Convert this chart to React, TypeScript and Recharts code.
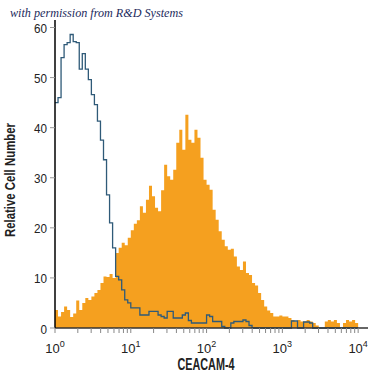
import React from "react";
import { ComposedChart, Area, Line, XAxis, YAxis } from "recharts";

// Histogram bins: 100 bins spanning 4 decades (log10 units), width 0.04 each
const BIN_WIDTH = 0.04;

// Stained (CEACAM-4) histogram, relative cell number per bin
const stainedCounts = [
  3.6, 2.3, 3.2, 4.3, 3.6, 2.2, 2.9, 5.5, 3.6, 5.0,
  6.0, 5.6, 6.3, 7.0, 7.6, 9.0, 10.3, 10.2, 10.8, 10.0,
  15.0, 16.0, 17.0, 16.5, 18.0, 19.5, 20.8, 21.5, 24.3, 23.0,
  25.6, 28.4, 26.3, 24.0, 23.3, 27.5, 32.6, 30.3, 29.6, 31.6,
  37.0, 39.6, 35.6, 42.6, 37.6, 37.0, 39.6, 38.0, 34.0, 29.6,
  28.6, 27.6, 23.6, 21.6, 19.3, 17.6, 16.3, 15.6, 15.8, 14.3,
  12.3, 11.6, 13.3, 11.0, 10.6, 9.0, 8.5, 7.0, 5.6, 4.3,
  3.5, 3.0, 2.3, 2.3, 2.5, 2.3, 2.3, 2.0, 1.6, 1.3,
  1.6, 1.3, 1.3, 1.6, 1.3, 1.0, 0.5, 0, 0, 1.3,
  1.6, 1.3, 1.6, 1.0, 0, 1.0, 1.6, 1.3, 1.6, 1.0,
];

// Isotype control histogram
const isotypeCounts = [
  45, 46, 54, 56.6, 57, 58.6, 57.2, 57, 51.7, 54.8,
  51.7, 49.6, 46.6, 44.6, 41.3, 37.5, 33.6, 26.6, 21, 16,
  10.3, 9.6, 7.6, 5.6, 5, 4, 4, 4, 2.6, 2.6,
  2.6, 3.3, 3.3, 3.3, 2.6, 2.3, 2, 3.3, 3.3, 2,
  2, 2, 2.6, 3.0, 1.5, 1, 1, 1, 1, 1,
  2.6, 2.3, 1.3, 1.3, 1.3, 0.3, 0, 0, 1.0, 1.3,
  1.3, 1.3, 1.6, 1.3, 0.5, 0, 0, 0, 0, 0,
  0, 0, 0, 0, 0, 0, 0, 0, 1.4, 1.4,
  0, 0, 1.2, 1.2, 1.0, 0, 0, 0, 0, 0,
  0, 0, 0, 0, 0, 0, 0, 0, 0, 0,
];

const majorDecades = [0, 1, 2, 3, 4];
const minorMultipliers = [2, 3, 4, 5, 6, 7, 8, 9];
const yTicks = [0, 10, 20, 30, 40, 50, 60];
const xAxisTitle = "CEACAM-4";
const yAxisTitle = "Relative Cell Number";
const creditText = "with permission from R&D Systems";

const data = stainedCounts.map((v, i) => ({
  x: i * BIN_WIDTH,
  stained: v,
  isotype: isotypeCounts[i],
}));
data.push({
  x: stainedCounts.length * BIN_WIDTH,
  stained: stainedCounts[stainedCounts.length - 1],
  isotype: isotypeCounts[isotypeCounts.length - 1],
});

const xTicks: number[] = [];
majorDecades.forEach((d) => {
  xTicks.push(d);
  if (d < 4) minorMultipliers.forEach((m) => xTicks.push(d + Math.log10(m)));
});

const FONT = "'Liberation Sans', Arial, sans-serif";

const XTick = (props: any) => {
  const { x, y, payload } = props;
  const v = payload.value;
  if (Math.abs(v - Math.round(v)) > 1e-6) return null;
  return (
    <text x={x} y={y + 18} textAnchor="middle" fontFamily={FONT} fontSize={13} fill="#222">
      <tspan>10</tspan>
      <tspan dy={-6} fontSize={9}>{Math.round(v)}</tspan>
    </text>
  );
};

const YTick = (props: any) => {
  const { x, y, payload } = props;
  const s = String(payload.value);
  return (
    <text x={x - 1} y={y + 5.5} textAnchor="end" fontFamily={FONT} fontSize={13.5} fill="#222" textLength={6.5 * s.length} lengthAdjust="spacingAndGlyphs">
      {s}
    </text>
  );
};

const YLabel = () => (
  <text
    x={15}
    y={180}
    transform="rotate(-90 15 180)"
    textAnchor="middle"
    fontFamily={FONT}
    fontWeight="bold"
    fontSize={15}
    fill="#222"
    textLength={114}
    lengthAdjust="spacingAndGlyphs"
  >
    {yAxisTitle}
  </text>
);

const XLabel = () => (
  <text
    x={206}
    y={370}
    textAnchor="middle"
    fontFamily={FONT}
    fontWeight="bold"
    fontSize={16}
    fill="#222"
    textLength={57}
    lengthAdjust="spacingAndGlyphs"
  >
    {xAxisTitle}
  </text>
);

export default function App() {
  return (
    <div style={{ position: "absolute", left: 0, top: 0, width: 375, height: 375, background: "#fff" }}>
      <ComposedChart
        width={375}
        height={375}
        data={data}
        margin={{ top: 20, right: 7, bottom: 0, left: 0 }}
      >
        <text
          x={10}
          y={16.5}
          fontFamily="'Liberation Serif', 'DejaVu Serif', serif"
          fontStyle="italic"
          fontSize={12.5}
          fill="#1c2a5c"
          textLength={173}
          lengthAdjust="spacingAndGlyphs"
        >
          {creditText}
        </text>
        <XAxis
          dataKey="x"
          type="number"
          domain={[0, 4.13]}
          ticks={xTicks}
          allowDataOverflow
          height={47}
          tickSize={5}
          tick={<XTick />}
          axisLine={{ stroke: "#333", strokeWidth: 1.5 }}
          tickLine={{ stroke: "#888" }}
          interval={0}
          label={<XLabel />}
        />
        <YAxis
          type="number"
          domain={[0, 61.5]}
          ticks={yTicks}
          width={55}
          tickSize={5}
          interval={0}
          axisLine={{ stroke: "#000", strokeWidth: 1.5 }}
          tickLine={{ stroke: "#999" }}
          tick={<YTick />}
          label={<YLabel />}
        />
        <Area
          type="stepAfter"
          dataKey="stained"
          fill="#f5a01f"
          fillOpacity={1}
          stroke="none"
          isAnimationActive={false}
          dot={false}
          activeDot={false}
        />
        <Line
          type="stepAfter"
          dataKey="isotype"
          stroke="#2f5a78"
          strokeWidth={1.3}
          dot={false}
          activeDot={false}
          isAnimationActive={false}
        />
      </ComposedChart>
    </div>
  );
}
